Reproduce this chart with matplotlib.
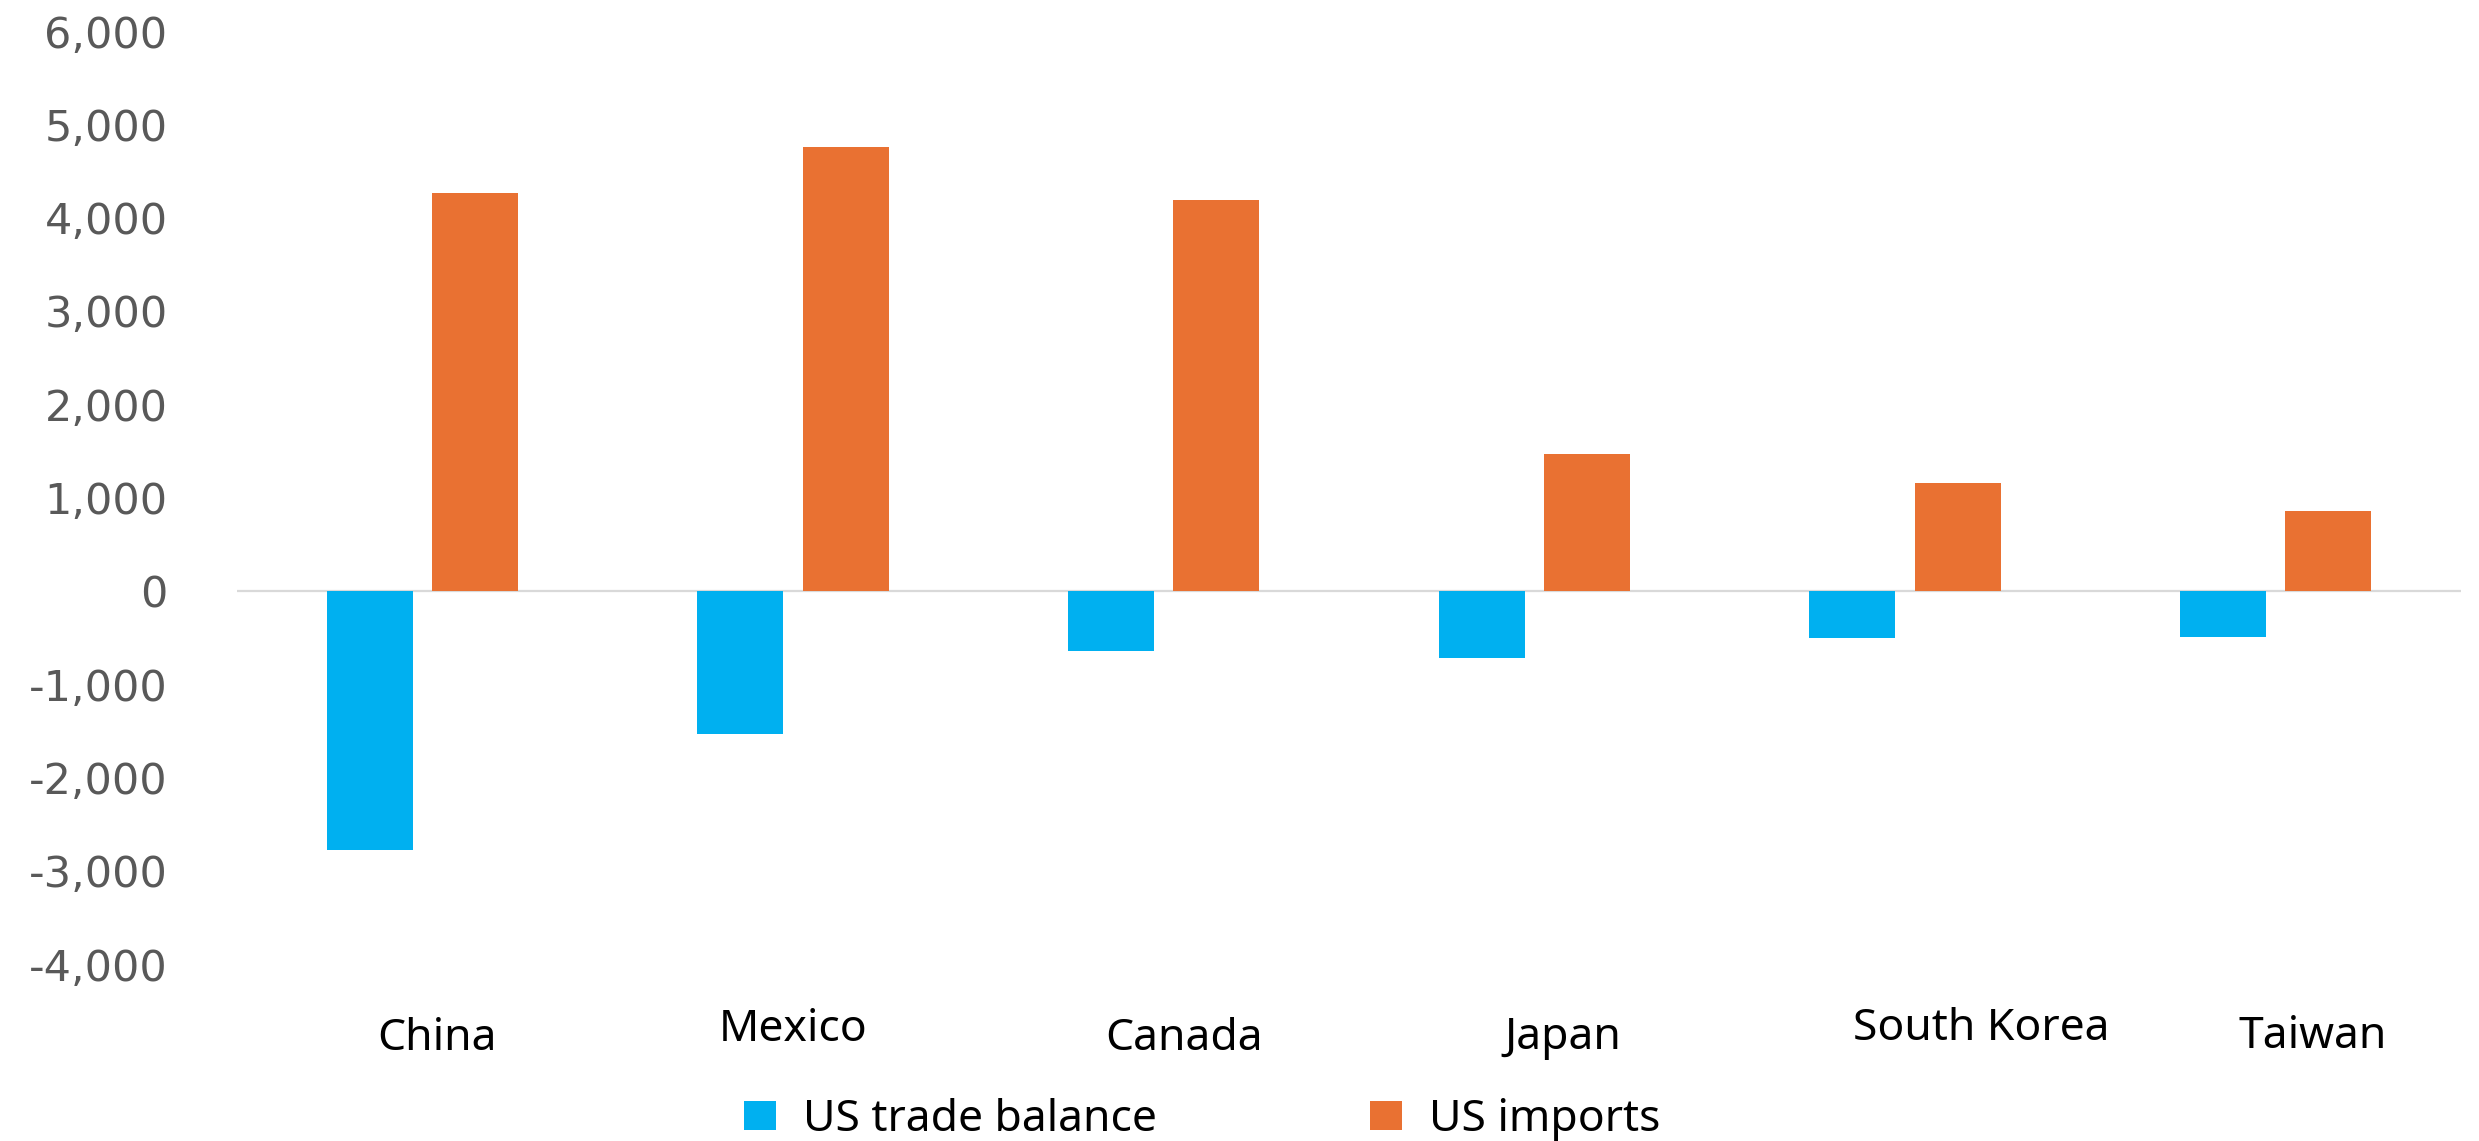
import matplotlib.pyplot as plt
import numpy as np
from matplotlib.ticker import FuncFormatter

categories = ["China", "Mexico", "Canada", "Japan", "South Korea", "Taiwan"]
trade_balance = [-2780, -1530, -640, -720, -506, -490]
us_imports = [4260, 4760, 4190, 1470, 1155, 860]
y_ticks = [-4000, -3000, -2000, -1000, 0, 1000, 2000, 3000, 4000, 5000, 6000]

BLUE = "#00B0F0"
ORANGE = "#E97132"

# small per-label nudges so the category names sit as in the source layout
label_dx = [0.04, 0.0, 0.054, 0.078, 0.205, 0.10]
label_y = [-0.092, -0.082, -0.092, -0.091, -0.081, -0.090]

fig = plt.figure(figsize=(24.79, 11.41), dpi=100)
ax = fig.add_axes([0.0956, 0.1551, 0.8971, 0.8177])

x = np.arange(len(categories))
width = 0.232
ax.bar(x - 0.142, trade_balance, width, color=BLUE, label="US trade balance")
ax.bar(x + 0.142, us_imports, width, color=ORANGE, label="US imports")

ax.axhline(0, color="#D9D9D9", lw=1.6, zorder=0)
ax.set_xlim(-0.5, len(categories) - 0.5)
ax.set_ylim(-4000, 6000)
ax.set_yticks(y_ticks)
ax.yaxis.set_major_formatter(FuncFormatter(lambda v, _: f"{int(v):,}"))
ax.tick_params(axis="y", length=0, pad=50, labelsize=31, labelcolor="#595959")
for lbl in ax.get_yticklabels():
    lbl.set_family("DejaVu Sans")
ax.set_xticks([])
for s in ax.spines.values():
    s.set_visible(False)

for i, name in enumerate(categories):
    ax.text(i + label_dx[i], label_y[i], name, transform=ax.get_xaxis_transform(),
            ha="center", va="baseline", fontsize=32, family="Noto Sans", color="black")

fig.legend(loc="center", bbox_to_anchor=(0.485, 0.0184), ncol=2, frameon=False,
           prop={"family": "Noto Sans", "size": 32}, borderpad=0,
           handlelength=0.72, handleheight=0.63, handletextpad=0.6, columnspacing=4.8)

fig.savefig("out.png", dpi=100)
